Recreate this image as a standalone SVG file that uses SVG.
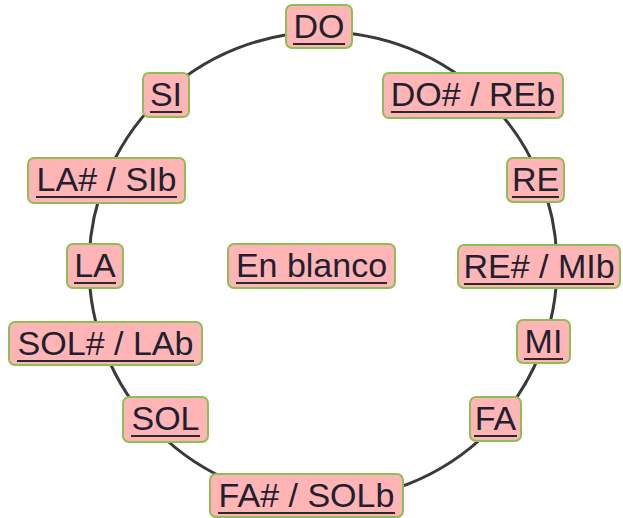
<svg xmlns="http://www.w3.org/2000/svg" width="623" height="518" viewBox="0 0 623 518">
<style>
.box{fill:#ffb5b5;stroke:#8dbf55;stroke-width:2}
.lbl{font-family:"Liberation Sans",Arial,sans-serif;font-size:34px;fill:#20202e;text-anchor:middle}
.ul{stroke:#2a2a2a;stroke-width:2}
.ring{fill:none;stroke:#3a3a3a;stroke-width:3}
</style>
<rect width="623" height="518" fill="#ffffff"/>
<g id="connectors">
<circle class="ring" cx="323" cy="266" r="234"/>
</g>
<g id="n-do"><rect class="box" x="286" y="5" width="66" height="43" rx="6"/><text class="lbl" x="319" y="38">DO</text><line class="ul" x1="293" y1="44" x2="345" y2="44"/></g>
<g id="n-dos"><rect class="box" x="383" y="73" width="180" height="45" rx="6"/><text class="lbl" x="473" y="106">DO# / REb</text><line class="ul" x1="391" y1="112" x2="555" y2="112"/></g>
<g id="n-si"><rect class="box" x="143" y="73" width="46" height="44" rx="6"/><text class="lbl" x="166" y="106">SI</text><line class="ul" x1="150" y1="112" x2="182" y2="112"/></g>
<g id="n-re"><rect class="box" x="507" y="158" width="57" height="44" rx="6"/><text class="lbl" x="535.5" y="191">RE</text><line class="ul" x1="512" y1="197" x2="559" y2="197"/></g>
<g id="n-las"><rect class="box" x="28" y="158" width="157" height="45" rx="6"/><text class="lbl" x="106.5" y="191">LA# / SIb</text><line class="ul" x1="36" y1="197" x2="177" y2="197"/></g>
<g id="n-res"><rect class="box" x="458" y="245" width="162" height="43" rx="6"/><text class="lbl" x="539" y="278">RE# / MIb</text><line class="ul" x1="464" y1="284" x2="614" y2="284"/></g>
<g id="n-la"><rect class="box" x="67" y="244" width="56" height="44" rx="6"/><text class="lbl" x="95" y="277">LA</text><line class="ul" x1="74" y1="283" x2="116" y2="283"/></g>
<g id="n-blank"><rect class="box" x="228" y="244" width="167" height="44" rx="6"/><text class="lbl" x="311.5" y="277">En blanco</text><line class="ul" x1="236" y1="283" x2="387" y2="283"/></g>
<g id="n-sols"><rect class="box" x="9" y="322" width="193" height="43" rx="6"/><text class="lbl" x="105.5" y="355">SOL# / LAb</text><line class="ul" x1="17" y1="361" x2="194" y2="361"/></g>
<g id="n-mi"><rect class="box" x="517" y="320" width="53" height="43" rx="6"/><text class="lbl" x="543.5" y="353">MI</text><line class="ul" x1="524" y1="359" x2="563" y2="359"/></g>
<g id="n-sol"><rect class="box" x="123" y="397" width="85" height="45" rx="6"/><text class="lbl" x="165.5" y="430">SOL</text><line class="ul" x1="131" y1="436" x2="200" y2="436"/></g>
<g id="n-fa"><rect class="box" x="470" y="397" width="51" height="44" rx="6"/><text class="lbl" x="495.5" y="430">FA</text><line class="ul" x1="474" y1="436" x2="517" y2="436"/></g>
<g id="n-fas"><rect class="box" x="210" y="474" width="193" height="43" rx="6"/><text class="lbl" x="306.5" y="507">FA# / SOLb</text><line class="ul" x1="218" y1="513" x2="395" y2="513"/></g>
</svg>
